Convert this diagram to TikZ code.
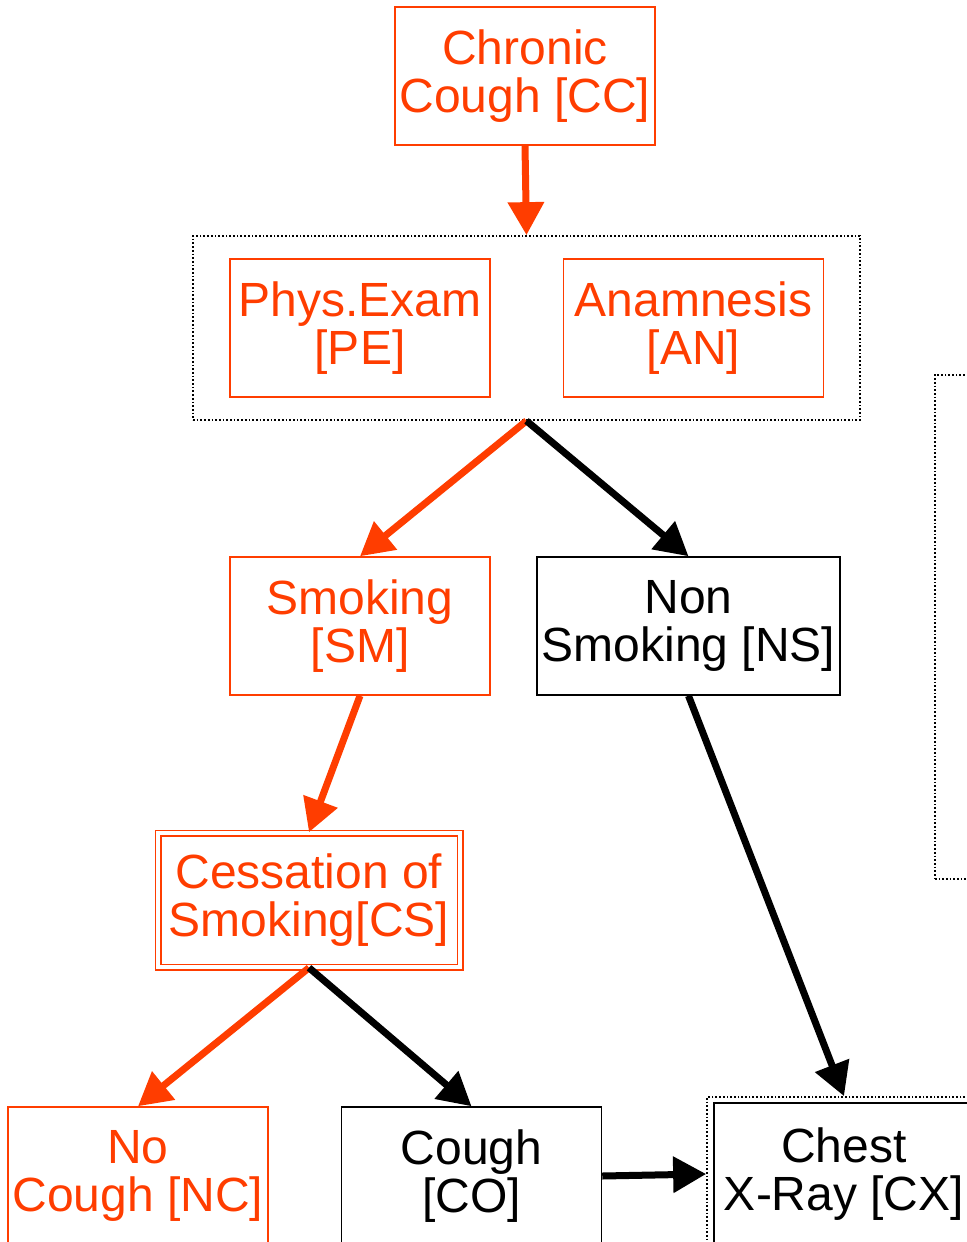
\documentclass[tikz,border=0pt]{standalone}
\usepackage{fontspec}
\setmainfont{Liberation Sans}
\usetikzlibrary{arrows.meta}
\definecolor{flow}{RGB}{255,61,0}

\begin{document}
\begin{tikzpicture}[
    x=0.5pt,
    y=-0.5pt,
    box/.style={
      draw,
      line width=0.75pt,
      minimum width=130pt,
      minimum height=69pt,
      inner sep=0pt,
      align=center,
      font=\fontsize{24}{24}\selectfont,
    },
    hot/.style={box, draw=flow, text=flow},
    cold/.style={box, draw=black, text=black},
    frame/.style={draw, densely dotted, line width=0.85pt, inner sep=0pt},
    link/.style={line width=3.5pt, -{Triangle[length=16.5pt,width=17.5pt]}},
  ]
  \clip (0,0) rectangle (967,1242);

  \node[hot] (cc) at (525,76) {Chronic\\Cough [CC]};
  \node[frame, minimum width=333.5pt, minimum height=92pt] (grp) at (526.5,328) {};
  \node[hot] (pe) at (360,328) {Phys.Exam\\{}[PE]};
  \node[hot] (an) at (693.5,328) {Anamnesis\\{}[AN]};
  \node[hot] (sm) at (360,626) {Smoking\\{}[SM]};
  \node[cold, minimum width=151.5pt] (ns) at (688.5,626) {Non\\Smoking [NS]};
  \node[
    hot,
    double=white,
    double distance=2pt,
    minimum width=151pt,
    minimum height=67pt,
  ] (cs) at (309,900) {Cessation of\\Smoking[CS]};
  \node[hot] (nc) at (138,1176) {No\\Cough [NC]};
  \node[cold] (co) at (471.5,1176) {Cough\\{}[CO]};
  \node[frame, minimum width=137pt, minimum height=77pt] (cxo) at (844,1174) {};
  \node[cold, minimum height=71pt] (cx) at (844,1174) {Chest\\X-Ray [CX]};
  \node[frame, anchor=north west, minimum width=60pt, minimum height=252pt] (legend) at (934,374) {};

  \draw[link, flow] (cc.south) -- (grp.north);
  \draw[link, flow] (grp.south) -- (sm.north);
  \draw[link] (grp.south) -- (ns.north);
  \draw[link, flow] (sm.south) -- (cs.north);
  \draw[link] (ns.south) -- (cxo.north);
  \draw[link, flow] (cs.south) -- (nc.north);
  \draw[link] (cs.south) -- (co.north);
  \draw[link] (co.east) -- (cxo.west);
\end{tikzpicture}
\end{document}
